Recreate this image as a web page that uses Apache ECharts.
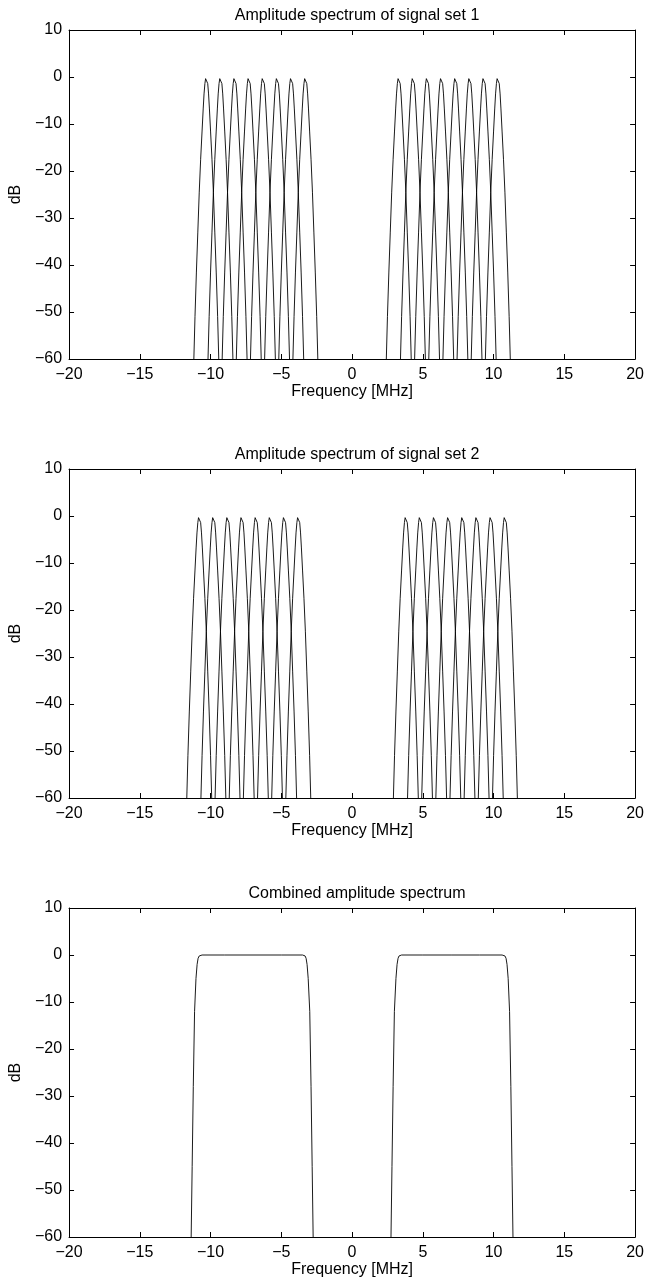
<!DOCTYPE html>
<html>
<head>
<meta charset="utf-8">
<script src="https://cdn.jsdelivr.net/npm/echarts@6/dist/echarts.min.js"></script>
<style>
html,body{margin:0;padding:0;background:#fff;}
#chart{width:647px;height:1279px;}
</style>
</head>
<body>
<div id="chart"></div>
<script>
// ---- data ----
const titles = ['Amplitude spectrum of signal set 1', 'Amplitude spectrum of signal set 2', 'Combined amplitude spectrum'];
const xLabel = 'Frequency [MHz]';
const yLabel = 'dB';
// peak centre frequencies (MHz)
const set1Centers = [-10.3, -9.3, -8.3, -7.3, -6.3, -5.3, -4.3, -3.3, 3.3, 4.3, 5.3, 6.3, 7.3, 8.3, 9.3, 10.3];
const set2Centers = [-10.8, -9.8, -8.8, -7.8, -6.8, -5.8, -4.8, -3.8, 3.8, 4.8, 5.8, 6.8, 7.8, 8.8, 9.8, 10.8];
// shape of one sub-band spectrum: offset from centre (MHz) and level (dB)
const profileOffset = [-0.88, -0.8, -0.7, -0.6, -0.5, -0.4, -0.3, -0.22, -0.16, -0.1, -0.05, 0, 0.05, 0.1, 0.16, 0.22, 0.3, 0.4, 0.5, 0.6, 0.7, 0.8, 0.88];
const profileDb = [-60, -51, -41.5, -33, -24.5, -17.5, -11.5, -6.8, -3.6, -1.4, -0.35, 0, -0.35, -1.4, -3.6, -6.8, -11.5, -17.5, -24.5, -33, -41.5, -51, -60];
// combined spectrum, lower and upper band
const combNegFreq = [-11.37, -11.3, -11.22, -11.13, -11.03, -10.95, -10.88, -10.8, -10.6, -9.0, -7.0, -5.0, -3.5, -3.32, -3.25, -3.18, -3.1, -2.99, -2.9, -2.82, -2.75];
const combNegDb = [-60, -45, -28, -12, -5, -2, -0.7, -0.2, 0, 0, 0, 0, 0, -0.2, -0.7, -2, -5, -12, -28, -45, -60];
const combPosFreq = [2.75, 2.82, 2.9, 2.99, 3.1, 3.18, 3.25, 3.32, 3.5, 5.0, 7.0, 9.0, 10.6, 10.8, 10.88, 10.95, 11.03, 11.13, 11.22, 11.3, 11.37];
const combPosDb = [-60, -45, -28, -12, -5, -2, -0.7, -0.2, 0, 0, 0, 0, 0, -0.2, -0.7, -2, -5, -12, -28, -45, -60];

const gridTops = [30, 469, 908];
const gridH = 329;
const font = 'Liberation Sans, Arial, Helvetica, sans-serif';

const chart = echarts.init(document.getElementById('chart'), null, {renderer: 'canvas'});

const grids = [], xAxes = [], yAxes = [], series = [], titleOpts = [];
const axisLine = {show: true, onZero: false, lineStyle: {color: '#000', width: 1}};
const tick = {show: true, inside: true, length: 5, lineStyle: {color: '#000', width: 1}};
const lbl = {color: '#000', fontSize: 16, fontFamily: font};
const minus = v => String(v).replace('-', '\u2212');

gridTops.forEach((top, i) => {
  grids.push({left: 65, right: 8, top: top, height: gridH});
  titleOpts.push({text: titles[i], left: 352, textAlign: 'center', top: top - 27,
    textStyle: {fontSize: 16, fontWeight: 'normal', color: '#000', fontFamily: font}});
  // bottom x axis
  xAxes.push({type: 'value', gridIndex: i, min: -20, max: 20, interval: 5, position: 'bottom',
    axisLine, axisTick: tick, splitLine: {show: false},
    axisLabel: Object.assign({margin: 8, formatter: minus}, lbl),
    name: xLabel, nameLocation: 'middle', nameGap: 22, nameTextStyle: lbl});
  // top x axis (box + ticks)
  xAxes.push({type: 'value', gridIndex: i, min: -20, max: 20, interval: 5, position: 'top',
    axisLine, axisTick: tick, axisLabel: {show: false}, splitLine: {show: false}});
  // left y axis
  yAxes.push({type: 'value', gridIndex: i, min: -60, max: 10, interval: 10, position: 'left',
    axisLine, axisTick: tick, splitLine: {show: false},
    axisLabel: Object.assign({margin: 7, formatter: minus}, lbl),
    name: yLabel, nameLocation: 'middle', nameGap: 40, nameRotate: 90, nameTextStyle: lbl});
  // right y axis
  yAxes.push({type: 'value', gridIndex: i, min: -60, max: 10, interval: 10, position: 'right',
    axisLine, axisTick: tick, axisLabel: {show: false}, splitLine: {show: false}});
});

function lineSeries(idx, data) {
  return {type: 'line', xAxisIndex: idx * 2, yAxisIndex: idx * 2, data: data,
    showSymbol: false, symbol: 'none', animation: false, silent: true,
    lineStyle: {color: '#000', width: 0.9}, clip: true};
}

[set1Centers, set2Centers].forEach((centers, idx) => {
  centers.forEach(c => {
    const d = profileOffset.map((o, k) => [c + o, profileDb[k]]);
    series.push(lineSeries(idx, d));
  });
});
series.push(lineSeries(2, combNegFreq.map((f, k) => [f, combNegDb[k]])));
series.push(lineSeries(2, combPosFreq.map((f, k) => [f, combPosDb[k]])));

chart.setOption({
  backgroundColor: '#fff',
  animation: false,
  title: titleOpts,
  grid: grids,
  xAxis: xAxes,
  yAxis: yAxes,
  series: series
});
</script>
</body>
</html>
